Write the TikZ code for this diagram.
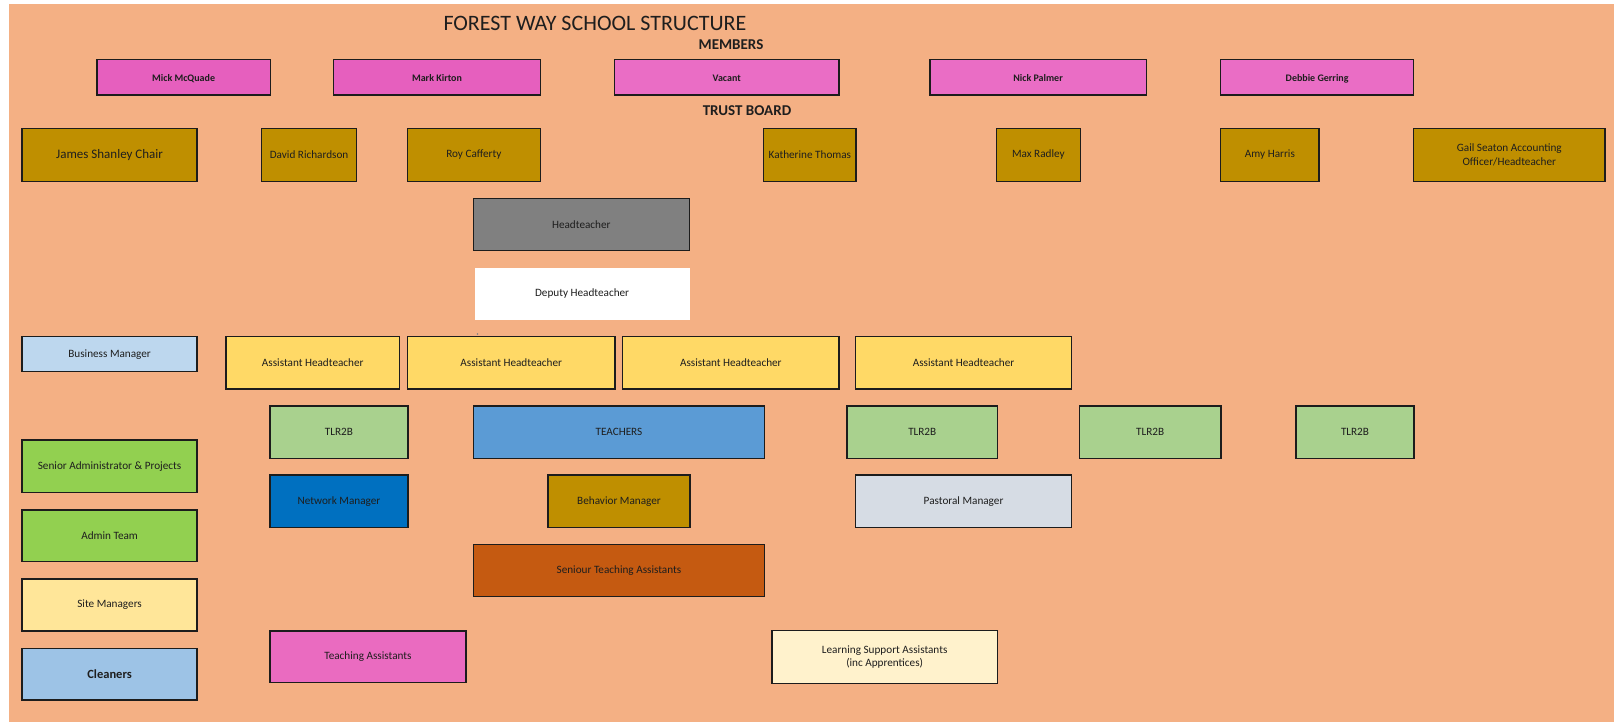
\documentclass[tikz,border=0pt]{standalone}
\usepackage{fontspec}
\setmainfont{Carlito}
\definecolor{bgorange}{HTML}{F4B084}
\definecolor{mempink}{HTML}{E65FBE}
\definecolor{mempinkb}{HTML}{EA6DC5}
\definecolor{trustgold}{HTML}{BF8F00}
\definecolor{htgray}{HTML}{808080}
\definecolor{bmblue}{HTML}{BDD7EE}
\definecolor{ahyellow}{HTML}{FFD966}
\definecolor{tlrgreen}{HTML}{A9D18E}
\definecolor{teachblue}{HTML}{5B9BD5}
\definecolor{admingreen}{HTML}{92D050}
\definecolor{netblue}{HTML}{0070C0}
\definecolor{pastgray}{HTML}{D6DCE4}
\definecolor{staorange}{HTML}{C55A11}
\definecolor{siteyellow}{HTML}{FFE699}
\definecolor{tapink}{HTML}{EA6BC0}
\definecolor{cleanblue}{HTML}{9DC3E6}
\definecolor{lsacream}{HTML}{FFF2CC}
\definecolor{edge}{HTML}{1C1C1C}
\definecolor{txt}{HTML}{1E1E1E}
\tikzset{
  box/.style={draw=edge, line width=1.5pt, rectangle, inner sep=1pt, align=center,
    text=txt, font=\fontsize{11.2}{14}\selectfont},
  membox/.style={box, font=\bfseries\fontsize{10}{13}\selectfont, text height=9pt, text depth=0pt},
  heading/.style={inner sep=0pt, text=txt},
}
\newcommand{\bx}[7]{\node[#6, minimum width={#4-#2}, minimum height={#5-#3}] (#1) at ({(#2+#4)/2},{(#3+#5)/2}) {#7};}
\begin{document}
\begin{tikzpicture}[x=1pt,y=-1pt]
\useasboundingbox (0,0) rectangle (1614,722);
\fill[white] (0,0) rectangle (1614,722);
\fill[bgorange] (9,4) rectangle (1614,722);
% headings
\node[heading, font=\fontsize{22}{26}\selectfont] (title) at (595,23.5) {FOREST WAY SCHOOL STRUCTURE};
\node[heading, font=\bfseries\fontsize{15}{18}\selectfont] (members) at (731,45) {MEMBERS};
\node[heading, font=\bfseries\fontsize{15}{18}\selectfont] (trust) at (747,110.5) {TRUST BOARD};
% members
\bx{m1}{96.8}{59.5}{270.4}{94.8}{membox, fill=mempink}{Mick McQuade}
\bx{m2}{333.7}{59.5}{540.3}{94.8}{membox, fill=mempink}{Mark Kirton}
\bx{m3}{614.5}{59.5}{838.9}{94.8}{membox, fill=mempinkb}{Vacant}
\bx{m4}{929.8}{59.5}{1146.3}{94.8}{membox, fill=mempinkb}{Nick Palmer}
\bx{m5}{1220.6}{59.5}{1413.7}{94.8}{membox, fill=mempinkb}{Debbie Gerring}
% trust board
\bx{t1}{22}{128.3}{197.2}{181.7}{box, fill=trustgold, font=\fontsize{13}{15}\selectfont}{\raisebox{-1.5pt}{James Shanley Chair}}
\bx{t2}{261.5}{128.3}{356.7}{181.7}{box, fill=trustgold}{David Richardson}
\bx{t3}{407.4}{128.3}{540.3}{181.7}{box, fill=trustgold}{Roy Cafferty}
\bx{t4}{763.7}{128.3}{856}{181.7}{box, fill=trustgold}{Katherine Thomas}
\bx{t5}{996.3}{128.3}{1080.4}{181.7}{box, fill=trustgold}{Max Radley}
\bx{t6}{1220.6}{128.3}{1319.2}{181.7}{box, fill=trustgold}{Amy Harris}
\bx{t7}{1413.7}{128.3}{1604.8}{181.7}{box, fill=trustgold}{Gail Seaton Accounting\\Officer/Headteacher}
% leadership
\bx{ht}{473.3}{198.3}{689.3}{250.7}{box, fill=htgray}{\raisebox{-1.5pt}{Headteacher}}
\bx{dht}{474.9}{268.7}{689.3}{319.3}{box, fill=white, draw=white, line width=0.6pt}{Deputy Headteacher}
\fill[gray] (477.5,334) circle (0.8);
\bx{bm}{22}{336.7}{197.2}{371.7}{box, fill=bmblue}{Business Manager}
\bx{ah1}{225.9}{336.7}{399.6}{389}{box, fill=ahyellow}{Assistant Headteacher}
\bx{ah2}{407.4}{336.7}{615.1}{389}{box, fill=ahyellow}{Assistant Headteacher}
\bx{ah3}{622.7}{336.7}{839}{389}{box, fill=ahyellow}{Assistant Headteacher}
\bx{ah4}{855.6}{336.7}{1071.5}{389}{box, fill=ahyellow}{Assistant Headteacher}
% teachers row
\bx{tl1}{269.9}{406}{408}{458.3}{box, fill=tlrgreen}{TLR2B}
\bx{teach}{473.3}{406}{764.6}{458.3}{box, fill=teachblue}{TEACHERS}
\bx{tl2}{847.2}{406}{997.3}{458.3}{box, fill=tlrgreen}{TLR2B}
\bx{tl3}{1079.3}{406}{1221.1}{458.3}{box, fill=tlrgreen}{TLR2B}
\bx{tl4}{1295.8}{406}{1414.2}{458.3}{box, fill=tlrgreen}{TLR2B}
% managers
\bx{sap}{22}{440.2}{197.2}{492.3}{box, fill=admingreen}{Senior Administrator \& Projects}
\bx{nm}{269.9}{475}{408}{527.3}{box, fill=netblue}{Network Manager}
\bx{behm}{548.1}{475}{689.9}{527.3}{box, fill=trustgold}{Behavior Manager}
\bx{pm}{855.6}{475}{1071.5}{527.3}{box, fill=pastgray}{Pastoral Manager}
\bx{adm}{22}{510}{197.2}{561.7}{box, fill=admingreen}{Admin Team}
\bx{sta}{473.3}{544.3}{764.6}{596.7}{box, fill=staorange}{Seniour Teaching Assistants}
\bx{site}{22}{579}{197.2}{631}{box, fill=siteyellow}{Site Managers}
\bx{ta}{269.9}{631}{466}{682.7}{box, fill=tapink}{Teaching Assistants}
\bx{lsa}{772}{630.3}{997.3}{683.3}{box, fill=lsacream, font=\fontsize{11.2}{13.5}\selectfont}{Learning Support Assistants\\(inc Apprentices)}
\bx{cl}{22}{648.3}{197.2}{700}{box, fill=cleanblue, font=\bfseries\fontsize{12.5}{14}\selectfont}{Cleaners}
\end{tikzpicture}
\end{document}
